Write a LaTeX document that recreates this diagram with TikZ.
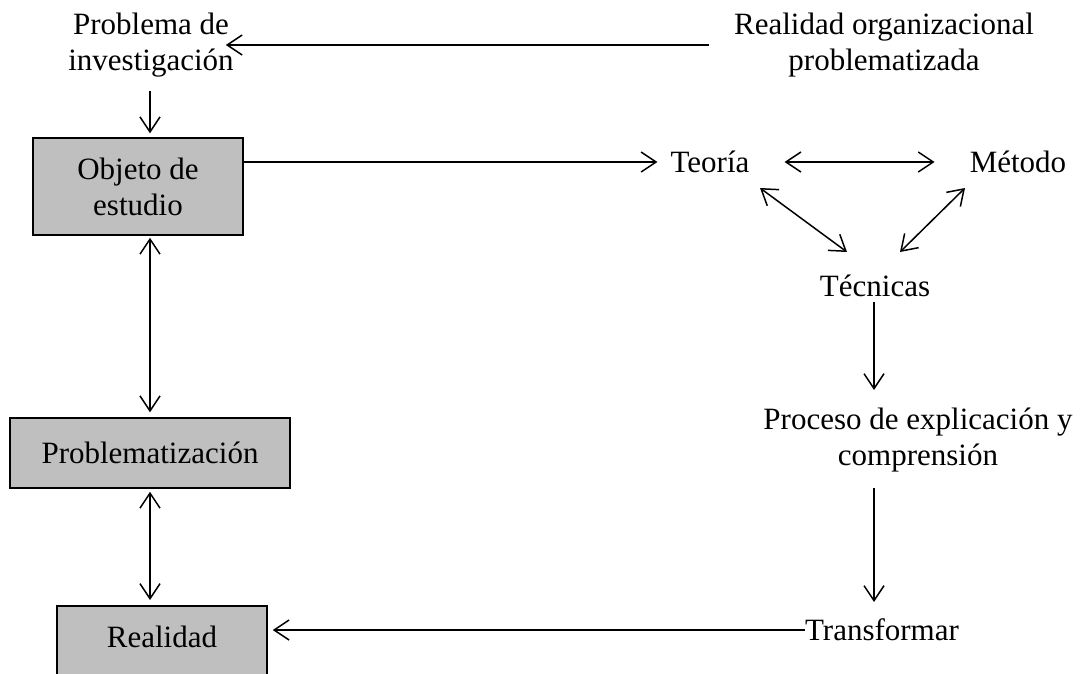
\documentclass[tikz,border=0pt]{standalone}
\usepackage{fontspec}
\setmainfont{Liberation Serif}
\usetikzlibrary{arrows.meta}
\begin{document}
\begin{tikzpicture}[x=1pt,y=-1pt,
  >={Straight Barb[length=15pt,width=20pt]},
  link/.style={line width=1.5pt},
  label/.style={inner sep=0pt,align=center,font=\fontsize{31}{36}\selectfont},
  graybox/.style={draw,line width=1.5pt,fill=black!25,inner sep=0pt,align=center,
    font=\fontsize{31}{36}\selectfont}]
\useasboundingbox (0,0) rectangle (1083,673);
\fill[white] (0,0) rectangle (1083,673);

% left column
\node[label] (prob) at (151,45) {Problema de\\investigación};
\node[graybox,minimum width=210pt,minimum height=97pt] (obj) at (138,186.5) {Objeto de\\estudio};
\node[graybox,minimum width=280pt,minimum height=70pt] (probz) at (150,453) {Problematización};
\node[graybox,minimum width=210pt,anchor=north,text height=42pt,text depth=60pt] (real) at (162,605) {Realidad};

% right side
\node[label] (roc) at (884,45) {Realidad organizacional\\problematizada};
\node[label] (teo) at (710,162) {Teoría};
\node[label] (met) at (1018,162) {Método};
\node[label] (tec) at (875,286) {Técnicas};
\node[label] (proc) at (918,440) {Proceso de explicación y\\comprensión};
\node[label] (trans) at (882,630) {Transformar};

% connectors
\draw[link,->] ([xshift=-25pt]roc.west) -- ([xshift=-8pt]prob.east);
\draw[link,->] ([shift={(-1,46)}]prob.center) -- ([shift={(-1,-4)}]prob.center |- obj.north);
\draw[link,<->] ([yshift=-2pt]obj.south -| probz.center) -- ([yshift=5pt]probz.north);
\draw[link,<->] ([yshift=-3pt]probz.south) -- ([yshift=5pt]probz.south |- real.north);
\draw[link,->] (obj.east |- teo.west) -- ([xshift=-13pt]teo.west);
\draw[link,<->] ([xshift=35pt]teo.east) -- ([xshift=-35pt]met.west);
\draw[link,<->] ([shift={(50,26)}]teo.center) -- ([shift={(-28,-34)}]tec.center);
\draw[link,<->] ([shift={(-53,26)}]met.center) -- ([shift={(25,-34)}]tec.center);
\draw[link,->] ([shift={(-1,16)}]tec.center) -- ([shift={(-44,-50)}]proc.center);
\draw[link,->] ([shift={(-44,48)}]proc.center) -- ([shift={(-8,-28)}]trans.center);
\draw[link,->] (trans.west) -- ([xshift=5pt]trans.west -| real.east);
\end{tikzpicture}
\end{document}
